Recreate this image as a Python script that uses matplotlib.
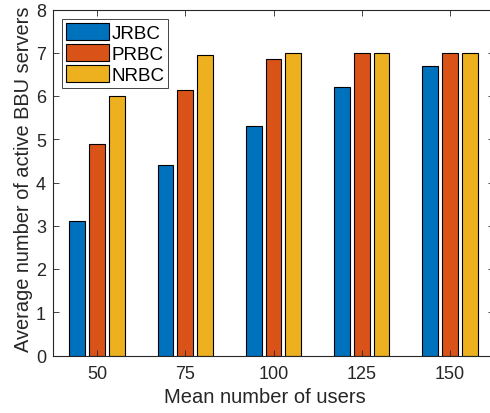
import matplotlib
matplotlib.use('Agg')
import matplotlib.pyplot as plt
import numpy as np

plt.rcParams['font.family'] = ['Liberation Sans', 'DejaVu Sans']

# data
users = ['50', '75', '100', '125', '150']
jrbc = [3.1, 4.4, 5.3, 6.2, 6.7]
prbc = [4.9, 6.15, 6.85, 7.0, 7.0]
nrbc = [6.0, 6.95, 7.0, 7.0, 7.0]
series_names = ['JRBC', 'PRBC', 'NRBC']
colors = ['#0072BD', '#D95319', '#EDB120']

fig = plt.figure(figsize=(4.9, 4.14), dpi=100)
ax = fig.add_axes([53 / 490, 57.5 / 414, 441 / 490, 346 / 414])

x = np.arange(len(users))
width = 0.18
pitch = 0.224
for i, (vals, name, c) in enumerate(zip([jrbc, prbc, nrbc], series_names, colors)):
    ax.bar(x + (i - 1) * pitch, vals, width, color=c, edgecolor='black',
           linewidth=0.8, label=name)

ax.set_xlim(-0.5, 4.5)
ax.set_ylim(0, 8)
ax.set_xticks(x)
ax.set_xticklabels(users)
ax.set_yticks(range(0, 9))

dark = '#262626'
for s in ax.spines.values():
    s.set_color(dark)
    s.set_linewidth(0.8)
ax.tick_params(direction='in', top=True, right=True, length=4, width=0.6,
               colors=dark, labelsize=13)
ax.tick_params(axis='x', pad=7)
ax.tick_params(axis='y', pad=5)
ax.set_xlabel('Mean number of users', fontsize=14.5, color=dark)
ax.set_ylabel('Average number of active BBU servers', fontsize=14.4, color=dark)
ax.xaxis.set_label_coords((265 - 53) / 441, -(388 - 356.5) / 346,
                          transform=ax.transAxes)
ax.xaxis.label.set_va('top')
ax.yaxis.set_label_coords(-(53 - 33) / 441, (356.5 - 179) / 346,
                          transform=ax.transAxes)

leg = ax.legend(loc='upper left', bbox_to_anchor=(0.012, 0.982), fontsize=13.5,
                handlelength=2.3, handleheight=1.0, handletextpad=0.15,
                labelspacing=0.12, borderpad=0.2, borderaxespad=0.2,
                fancybox=False, framealpha=1)
leg.get_frame().set_edgecolor(dark)
leg.get_frame().set_linewidth(0.6)

fig.savefig('out.png', dpi=100)
